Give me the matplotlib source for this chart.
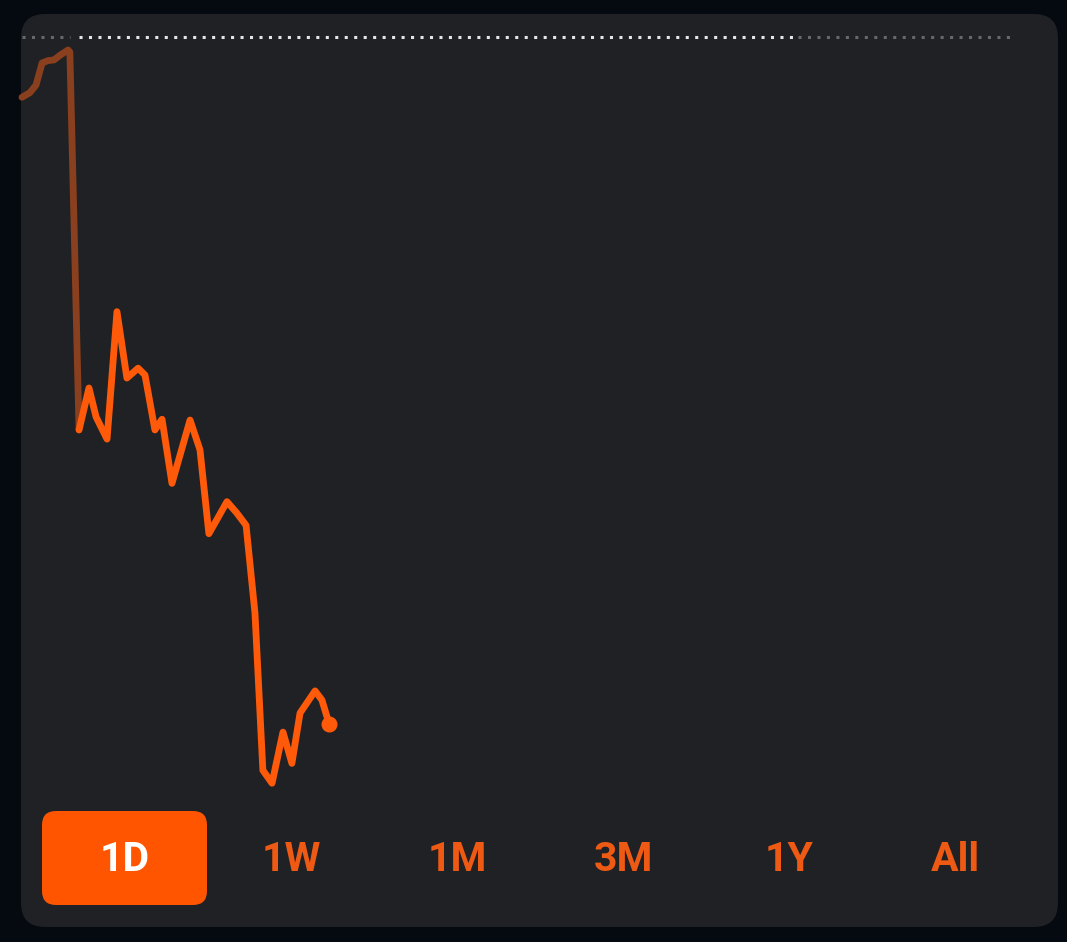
import matplotlib
matplotlib.use("Agg")
import matplotlib.pyplot as plt
from matplotlib.patches import FancyBboxPatch

# ---- data (time in minutes from chart start, price in chart units) ----
pre_t = [0, 3.1, 5.5, 7.9, 10.2, 12.6, 14.9, 18.1, 18.8, 22.4]
pre_p = [92.1, 92.7, 93.7, 96.6, 96.9, 97.0, 97.6, 98.3, 98.0, 48.5]

day_t = [22.4, 26.3, 29.1, 33.4, 37.3, 41.2, 45.6, 48.3, 52.2, 55.0, 58.9,
         66.0, 69.9, 73.4, 80.5, 84.4, 88.0, 91.5, 94.6, 98.2, 102.5, 106.0,
         109.2, 115.1, 117.8, 120.6]
day_p = [48.5, 54.0, 50.2, 47.3, 64.0, 55.3, 56.6, 55.7, 48.5, 49.9, 41.5,
         49.8, 45.9, 34.9, 39.1, 37.6, 36.0, 24.5, 3.9, 2.2, 8.9, 4.8,
         11.4, 14.3, 13.1, 10.0]

ref_level = 100.0
session_bounds = [0, 22.4, 303.3, 390]   # pre / regular / post
ranges = ["1D", "1W", "1M", "3M", "1Y", "All"]
selected = "1D"

# ---- style ----
OUTER = "#050a10"
CARD = "#1f2124"
ORANGE = "#ff5a0a"
BROWN = "#8a3f1e"
LABEL = "#ee5a14"

W, H = 1067, 942
fig = plt.figure(figsize=(W / 100, H / 100), dpi=100, facecolor=OUTER)

bg = fig.add_axes([0, 0, 1, 1])
bg.set_xlim(0, W)
bg.set_ylim(H, 0)
bg.axis("off")
bg.add_patch(FancyBboxPatch((21 + 24, 14 + 24), 1037 - 48, 913 - 48,
                            boxstyle="round,pad=24", fc=CARD, ec="none"))

# range buttons
for i, lab in enumerate(ranges):
    cx = 125 + i * 166
    if lab == selected:
        bg.add_patch(FancyBboxPatch((42 + 14, 811 + 14), 165 - 28, 94 - 28,
                                    boxstyle="round,pad=14", fc="#ff5500", ec="none"))
        col = "white"
    else:
        col = LABEL
    bg.text(cx, 860, lab, ha="center", va="center", color=col,
            fontsize=29.5, fontweight="bold", family=["Roboto", "DejaVu Sans"])

# chart axes
ax = fig.add_axes([22 / W, 1 - 800 / H, 993 / W, 763 / H])
ax.set_xlim(0, 390)
ax.set_ylim(0, 100)
ax.axis("off")
ax.patch.set_alpha(0)

# reference dotted line
dot_style = dict(lw=2.2, linestyle=(0, (1, 2.1)), dash_capstyle="butt", clip_on=False)
ax.plot([session_bounds[0], session_bounds[1] - 3.5], [ref_level] * 2, color="#66696c", **dot_style)
ax.plot([session_bounds[1], session_bounds[2]], [ref_level] * 2, color="#e6e6e6", **dot_style)
ax.plot([session_bounds[2] + 1.5, session_bounds[3]], [ref_level] * 2, color="#66696c", **dot_style)

# price lines
ax.plot(pre_t, pre_p, color=BROWN, lw=4.9, solid_joinstyle="round",
        solid_capstyle="round", clip_on=False)
ax.plot(day_t, day_p, color=ORANGE, lw=4.9, solid_joinstyle="round",
        solid_capstyle="round", clip_on=False)
ax.plot(day_t[-1:], day_p[-1:], "o", color=ORANGE, ms=10.5, clip_on=False)

fig.savefig("out.png", dpi=100, facecolor=OUTER)
